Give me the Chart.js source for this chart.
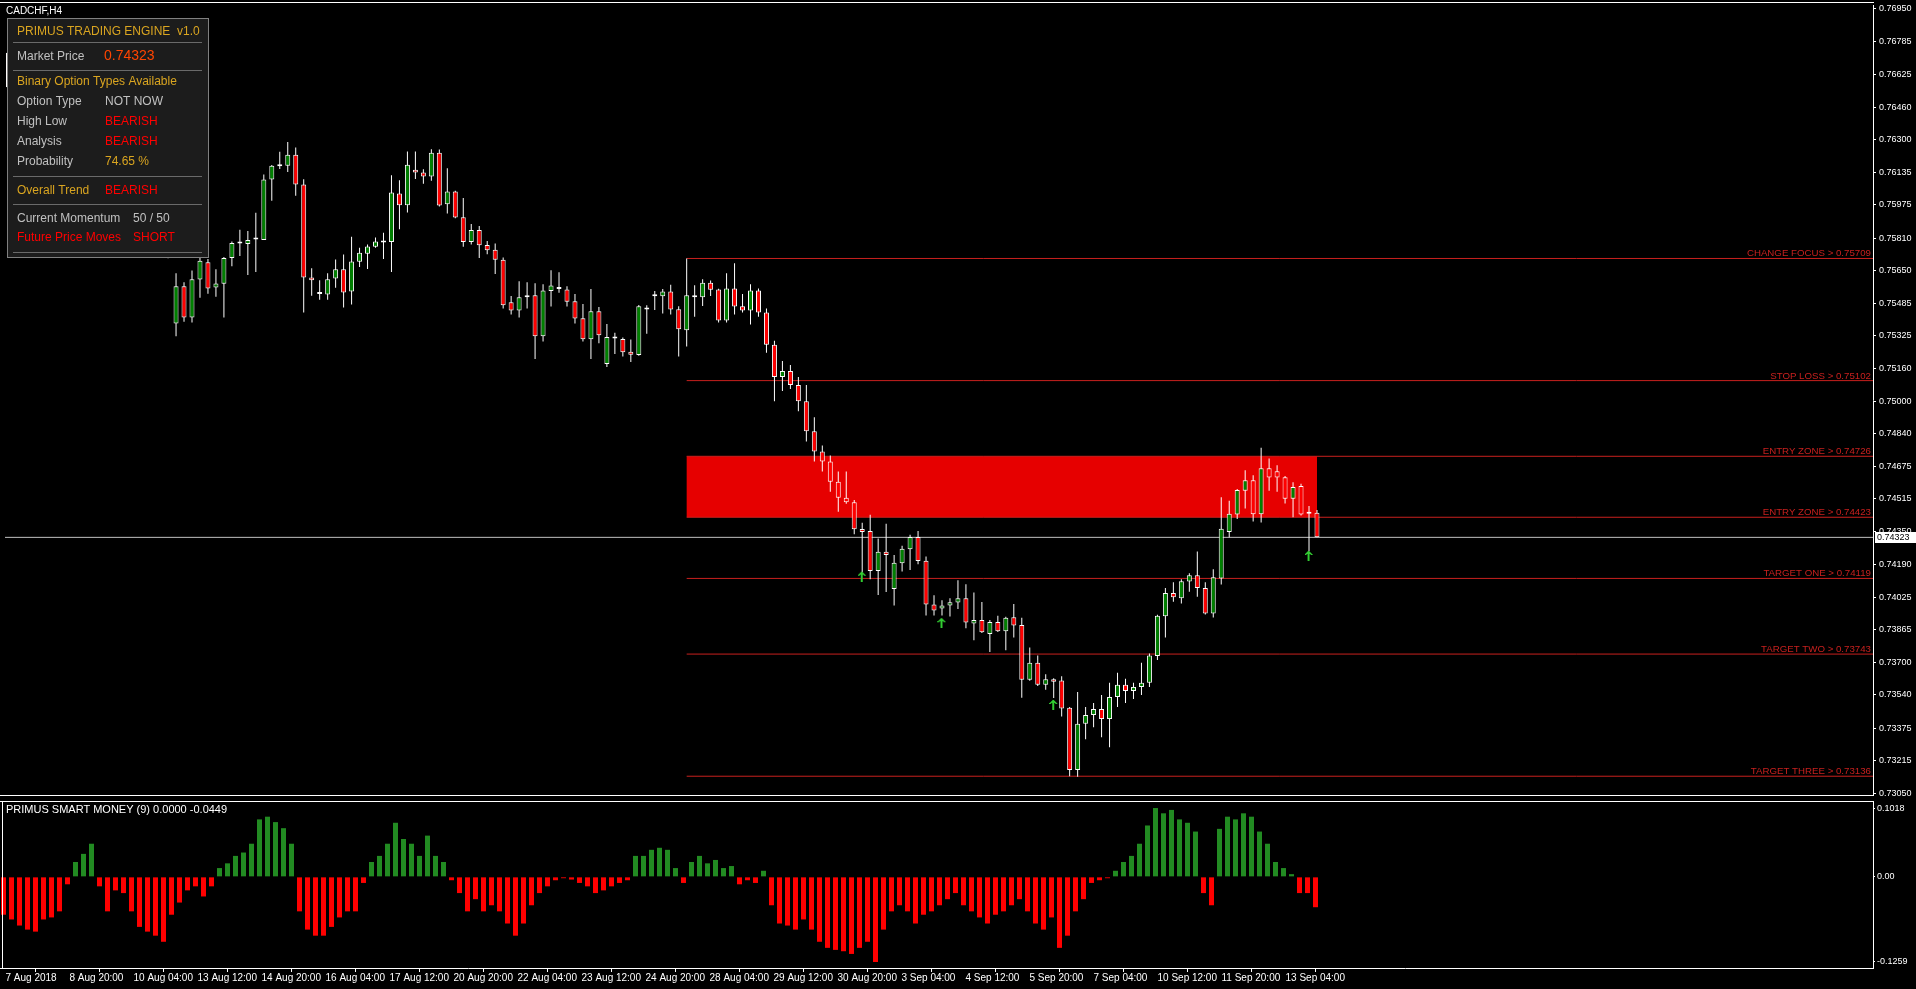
<!DOCTYPE html>
<html>
<head>
<meta charset="utf-8">
<title>CADCHF,H4</title>
<script src="https://cdn.jsdelivr.net/npm/chart.js@4"></script>
<style>
  html, body { margin: 0; padding: 0; background: #000; overflow: hidden; }
  #main { position: absolute; left: 0; top: 0; }
  #smart { position: absolute; left: 0; top: 800px; }
</style>
</head>
<body>
<canvas id="main" width="1916" height="800"></canvas>
<canvas id="smart" width="1916" height="189"></canvas>
<script>
// CADCHF H4 candles, bar 0 = 7 Aug 2018 12:00
const barOpen = [
  0.76732, 0.76560, 0.76590, 0.76640, 0.76600, 0.76520, 0.76470, 0.76500, 0.76440, 0.76360,
  0.76400, 0.76320, 0.76250, 0.76150, 0.76190, 0.76080, 0.75980, 0.76020, 0.75900, 0.75810,
  0.75760, 0.75386, 0.75571, 0.75416, 0.75604, 0.75690, 0.75565, 0.75583, 0.75711, 0.75784,
  0.75781, 0.75803, 0.75801, 0.76101, 0.76167, 0.76170, 0.76224, 0.76077, 0.75614, 0.75533,
  0.75530, 0.75609, 0.75655, 0.75545, 0.75693, 0.75732, 0.75767, 0.75789, 0.75791, 0.76032,
  0.75973, 0.76150, 0.76136, 0.76116, 0.76234, 0.75978, 0.76042, 0.75914, 0.75791, 0.75850,
  0.75776, 0.75752, 0.75703, 0.75491, 0.75450, 0.75516, 0.75526, 0.75322, 0.75548, 0.75557,
  0.75555, 0.75496, 0.75412, 0.75307, 0.75447, 0.75184, 0.75311, 0.75309, 0.75245, 0.75229,
  0.75466, 0.75530, 0.75521, 0.75545, 0.75457, 0.75352, 0.75526, 0.75516, 0.75589, 0.75555,
  0.75401, 0.75560, 0.75471, 0.75450, 0.75550, 0.75440, 0.75280, 0.75120, 0.75150, 0.75080,
  0.75000, 0.74850, 0.74750, 0.74700, 0.74600, 0.74520, 0.74497, 0.74364, 0.74355, 0.74156,
  0.74251, 0.74067, 0.74195, 0.74264, 0.74325, 0.74207, 0.73990, 0.73969, 0.73984, 0.73999,
  0.74020, 0.73895, 0.73912, 0.73843, 0.73902, 0.73856, 0.73926, 0.73887, 0.73615, 0.73700,
  0.73590, 0.73618, 0.73612, 0.73476, 0.73167, 0.73397, 0.73440, 0.73470, 0.73420, 0.73530,
  0.73590, 0.73560, 0.73580, 0.73600, 0.73733, 0.73931, 0.74046, 0.74020, 0.74104, 0.74135,
  0.74071, 0.73945, 0.74118, 0.74350, 0.74437, 0.74555, 0.74607, 0.74438, 0.74666, 0.74651,
  0.74622, 0.74515, 0.74578, 0.74441, 0.74445
];
const barHigh = [
  0.76762, 0.76620, 0.76680, 0.76700, 0.76650, 0.76580, 0.76530, 0.76560, 0.76480, 0.76420,
  0.76450, 0.76380, 0.76300, 0.76220, 0.76230, 0.76120, 0.76050, 0.76060, 0.75960, 0.75870,
  0.75820, 0.75635, 0.75591, 0.75649, 0.75714, 0.75706, 0.75655, 0.75716, 0.75794, 0.75852,
  0.75845, 0.75936, 0.76126, 0.76173, 0.76239, 0.76288, 0.76260, 0.76103, 0.75660, 0.75601,
  0.75635, 0.75704, 0.75729, 0.75817, 0.75762, 0.75778, 0.75813, 0.75837, 0.76122, 0.76098,
  0.76241, 0.76241, 0.76152, 0.76252, 0.76250, 0.76157, 0.76045, 0.76009, 0.75880, 0.75870,
  0.75796, 0.75783, 0.75714, 0.75522, 0.75596, 0.75591, 0.75586, 0.75581, 0.75650, 0.75640,
  0.75571, 0.75532, 0.75483, 0.75557, 0.75468, 0.75384, 0.75340, 0.75316, 0.75306, 0.75478,
  0.75476, 0.75547, 0.75557, 0.75578, 0.75471, 0.75709, 0.75576, 0.75606, 0.75599, 0.75558,
  0.75635, 0.75685, 0.75532, 0.75581, 0.75560, 0.75460, 0.75300, 0.75200, 0.75180, 0.75120,
  0.75080, 0.74920, 0.74780, 0.74730, 0.74650, 0.74650, 0.74509, 0.74396, 0.74435, 0.74317,
  0.74391, 0.74236, 0.74281, 0.74336, 0.74355, 0.74228, 0.74035, 0.74010, 0.74020, 0.74110,
  0.74090, 0.74049, 0.74002, 0.73913, 0.73933, 0.73928, 0.73992, 0.73923, 0.73776, 0.73736,
  0.73643, 0.73623, 0.73633, 0.73480, 0.73554, 0.73480, 0.73500, 0.73540, 0.73600, 0.73650,
  0.73620, 0.73600, 0.73700, 0.73746, 0.73938, 0.74072, 0.74100, 0.74115, 0.74145, 0.74253,
  0.74100, 0.74164, 0.74523, 0.74505, 0.74563, 0.74656, 0.74632, 0.74769, 0.74715, 0.74681,
  0.74628, 0.74597, 0.74589, 0.74479, 0.74459
];
const barLow = [
  0.76541, 0.76480, 0.76550, 0.76560, 0.76500, 0.76440, 0.76400, 0.76420, 0.76330, 0.76280,
  0.76300, 0.76220, 0.76120, 0.76080, 0.76050, 0.75950, 0.75900, 0.75880, 0.75780, 0.75730,
  0.75710, 0.75322, 0.75394, 0.75391, 0.75514, 0.75534, 0.75519, 0.75416, 0.75671, 0.75721,
  0.75627, 0.75642, 0.75801, 0.75996, 0.76154, 0.76139, 0.76021, 0.75440, 0.75524, 0.75504,
  0.75504, 0.75563, 0.75465, 0.75480, 0.75667, 0.75657, 0.75762, 0.75706, 0.75642, 0.75854,
  0.75937, 0.76104, 0.76080, 0.76095, 0.75967, 0.75932, 0.75909, 0.75767, 0.75779, 0.75711,
  0.75730, 0.75632, 0.75460, 0.75430, 0.75416, 0.75460, 0.75209, 0.75297, 0.75470, 0.75539,
  0.75470, 0.75386, 0.75297, 0.75209, 0.75288, 0.75170, 0.75234, 0.75222, 0.75194, 0.75225,
  0.75335, 0.75453, 0.75435, 0.75430, 0.75222, 0.75271, 0.75419, 0.75473, 0.75522, 0.75391,
  0.75391, 0.75430, 0.75440, 0.75381, 0.75420, 0.75240, 0.75000, 0.75050, 0.75060, 0.74950,
  0.74800, 0.74700, 0.74650, 0.74550, 0.74450, 0.74490, 0.74338, 0.74148, 0.74115, 0.74036,
  0.74051, 0.73984, 0.74154, 0.74161, 0.74190, 0.73935, 0.73935, 0.73935, 0.73930, 0.73967,
  0.73871, 0.73812, 0.73848, 0.73753, 0.73853, 0.73762, 0.73826, 0.73526, 0.73610, 0.73584,
  0.73566, 0.73525, 0.73433, 0.73136, 0.73134, 0.73320, 0.73380, 0.73330, 0.73280, 0.73480,
  0.73500, 0.73520, 0.73540, 0.73580, 0.73713, 0.73826, 0.74003, 0.73994, 0.74053, 0.74028,
  0.73940, 0.73925, 0.74089, 0.74323, 0.74414, 0.74466, 0.74402, 0.74397, 0.74555, 0.74550,
  0.74491, 0.74423, 0.74432, 0.74254, 0.74323
];
const barClose = [
  0.76560, 0.76590, 0.76640, 0.76600, 0.76520, 0.76470, 0.76500, 0.76440, 0.76360, 0.76400,
  0.76320, 0.76250, 0.76150, 0.76190, 0.76080, 0.75980, 0.76020, 0.75900, 0.75810, 0.75760,
  0.75740, 0.75571, 0.75416, 0.75606, 0.75698, 0.75560, 0.75585, 0.75712, 0.75786, 0.75784,
  0.75801, 0.75803, 0.76101, 0.76170, 0.76167, 0.76224, 0.76077, 0.75614, 0.75601, 0.75533,
  0.75606, 0.75655, 0.75540, 0.75694, 0.75737, 0.75768, 0.75793, 0.75789, 0.76037, 0.75973,
  0.76175, 0.76136, 0.76116, 0.76234, 0.75972, 0.76042, 0.75913, 0.75791, 0.75850, 0.75775,
  0.75750, 0.75703, 0.75476, 0.75450, 0.75516, 0.75526, 0.75322, 0.75550, 0.75575, 0.75557,
  0.75494, 0.75411, 0.75307, 0.75447, 0.75327, 0.75319, 0.75311, 0.75243, 0.75230, 0.75471,
  0.75455, 0.75521, 0.75545, 0.75455, 0.75357, 0.75526, 0.75516, 0.75589, 0.75553, 0.75401,
  0.75560, 0.75470, 0.75450, 0.75550, 0.75440, 0.75280, 0.75120, 0.75150, 0.75080, 0.75000,
  0.74850, 0.74750, 0.74700, 0.74600, 0.74520, 0.74497, 0.74363, 0.74350, 0.74156, 0.74251,
  0.74236, 0.74197, 0.74266, 0.74325, 0.74205, 0.73989, 0.73959, 0.73985, 0.74000, 0.74020,
  0.73900, 0.73912, 0.73851, 0.73902, 0.73856, 0.73923, 0.73885, 0.73615, 0.73700, 0.73590,
  0.73618, 0.73605, 0.73472, 0.73167, 0.73397, 0.73440, 0.73470, 0.73420, 0.73530, 0.73590,
  0.73560, 0.73580, 0.73600, 0.73736, 0.73933, 0.74046, 0.74025, 0.74105, 0.74135, 0.74072,
  0.73945, 0.74125, 0.74366, 0.74440, 0.74558, 0.74607, 0.74438, 0.74666, 0.74620, 0.74620,
  0.74515, 0.74573, 0.74437, 0.74441, 0.74323
];

// PRIMUS SMART MONEY (9) histogram, one value per bar
const smartMoney = [
  -0.056, -0.063, -0.072, -0.078, -0.081, -0.063, -0.060, -0.051, -0.011, 0.022,
  0.034, 0.049, -0.014, -0.051, -0.020, -0.024, -0.051, -0.074, -0.081, -0.087,
  -0.096, -0.056, -0.038, -0.020, -0.014, -0.029, -0.014, 0.013, 0.020, 0.031,
  0.036, 0.049, 0.085, 0.089, 0.081, 0.072, 0.049, -0.051, -0.078, -0.087,
  -0.087, -0.074, -0.060, -0.051, -0.051, -0.009, 0.022, 0.031, 0.049, 0.080,
  0.056, 0.049, 0.031, 0.061, 0.031, 0.022, -0.005, -0.024, -0.051, -0.033,
  -0.051, -0.042, -0.051, -0.069, -0.087, -0.069, -0.042, -0.024, -0.014, -0.005,
  -0.002, -0.004, -0.009, -0.014, -0.024, -0.020, -0.014, -0.009, -0.005, 0.031,
  0.031, 0.040, 0.043, 0.040, 0.013, -0.009, 0.022, 0.031, 0.020, 0.025,
  0.013, 0.016, -0.011, -0.005, -0.009, 0.009, -0.042, -0.069, -0.072, -0.078,
  -0.063, -0.078, -0.096, -0.105, -0.108, -0.110, -0.114, -0.105, -0.096, -0.1259,
  -0.078, -0.051, -0.042, -0.051, -0.069, -0.056, -0.051, -0.042, -0.033, -0.024,
  -0.042, -0.051, -0.060, -0.069, -0.056, -0.051, -0.042, -0.033, -0.051, -0.069,
  -0.078, -0.060, -0.105, -0.087, -0.051, -0.033, -0.009, -0.005, -0.002, 0.009,
  0.022, 0.031, 0.049, 0.076, 0.1018, 0.094, 0.099, 0.085, 0.080, 0.067,
  -0.024, -0.042, 0.071, 0.089, 0.085, 0.094, 0.089, 0.067, 0.049, 0.022,
  0.013, 0.004, -0.024, -0.024, -0.0449
];

const dateTickBars = [0, 8, 16, 24, 32, 40, 48, 56, 64, 72, 80, 88, 96, 104, 112, 120, 128, 136, 144, 152, 160];
const dateTickLabels = ['7 Aug 2018', '8 Aug 20:00', '10 Aug 04:00', '13 Aug 12:00', '14 Aug 20:00', '16 Aug 04:00',
  '17 Aug 12:00', '20 Aug 20:00', '22 Aug 04:00', '23 Aug 12:00', '24 Aug 20:00', '28 Aug 04:00', '29 Aug 12:00',
  '30 Aug 20:00', '3 Sep 04:00', '4 Sep 12:00', '5 Sep 20:00', '7 Sep 04:00', '10 Sep 12:00', '11 Sep 20:00', '13 Sep 04:00'];

const priceTicks = [0.76950, 0.76785, 0.76625, 0.76460, 0.76300, 0.76135, 0.75975, 0.75810, 0.75650, 0.75485,
  0.75325, 0.75160, 0.75000, 0.74840, 0.74675, 0.74515, 0.74350, 0.74190, 0.74025, 0.73865, 0.73700, 0.73540,
  0.73375, 0.73215, 0.73050];
const smartTicks = [0.1018, 0, -0.1259];
const smartTickLabels = ['0.1018', '0.00', '-0.1259'];

const levelNames = ['CHANGE FOCUS', 'STOP LOSS', 'ENTRY ZONE', 'ENTRY ZONE', 'TARGET ONE', 'TARGET TWO', 'TARGET THREE'];
const levelValues = [0.75709, 0.75102, 0.74726, 0.74423, 0.74119, 0.73743, 0.73136];
const zoneStartBar = 85;
const zoneEndBar = 164;
const currentPrice = 0.74323;

const arrowBars = [107, 117, 131, 163];
const arrowPrices = [0.74130, 0.73899, 0.73493, 0.74233];

const symbolTitle = 'CADCHF,H4';

const FONT = '"Liberation Sans", Arial, sans-serif';
const GOLD = '#daa520';
const SILVER = '#c0c0c0';
const RED = '#ff0000';
const levelColor = '#c8201e';

// info panel rows: label, colour, value, colour, value x, row y
const panelRows = [
  ['PRIMUS TRADING ENGINE  v1.0', GOLD, '', '', 0, 31.5],
  ['Market Price', SILVER, currentPrice.toFixed(5), '#ff4500', 104, 56.5],
  ['Binary Option Types Available', GOLD, '', '', 0, 81.5],
  ['Option Type', SILVER, 'NOT NOW', SILVER, 105, 101.5],
  ['High Low', SILVER, 'BEARISH', RED, 105, 121.5],
  ['Analysis', SILVER, 'BEARISH', RED, 105, 141.5],
  ['Probability', SILVER, '74.65 %', GOLD, 105, 161.5],
  ['Overall Trend', GOLD, 'BEARISH', RED, 105, 190.5],
  ['Current Momentum', SILVER, '50 / 50', SILVER, 133, 218.5],
  ['Future Price Moves', RED, 'SHORT', RED, 133, 237.5]
];
const panelSeparators = [42.5, 70.5, 176.5, 204.5, 252.5];

// x axis: 8 px per bar, plot area ends at 1873 px
const xMin = -0.4375;
const xMax = xMin + 1873 / 8;

function candleColor(i) {
  if (barClose[i] > barOpen[i]) return '#008000';
  if (barClose[i] < barOpen[i]) return '#ff0000';
  return '#ffffff';
}

function makeArrow() {
  const c = document.createElement('canvas');
  c.width = 9; c.height = 11;
  const g = c.getContext('2d');
  g.fillStyle = '#32cd32';
  g.fillRect(3, 1, 2, 10);
  g.fillRect(2, 2, 1, 2); g.fillRect(5, 2, 1, 2);
  g.fillRect(1, 3, 1, 2); g.fillRect(6, 3, 1, 2);
  g.fillRect(0, 4, 1, 1); g.fillRect(7, 4, 1, 1);
  return c;
}

function drawPanel(ctx) {
  ctx.fillStyle = '#1c1c1c';
  ctx.fillRect(7, 18, 202, 240);
  ctx.strokeStyle = '#808080';
  ctx.lineWidth = 1;
  ctx.strokeRect(7.5, 18.5, 201, 239);
  ctx.strokeStyle = '#6a6a6a';
  panelSeparators.forEach(y => {
    ctx.beginPath(); ctx.moveTo(13, y); ctx.lineTo(202, y); ctx.stroke();
  });
  ctx.textBaseline = 'middle';
  ctx.textAlign = 'left';
  panelRows.forEach(([label, lc, value, vc, vx, y]) => {
    ctx.font = '12px ' + FONT;
    ctx.fillStyle = lc;
    ctx.fillText(label, 17, y);
    if (value) {
      ctx.font = (vx === 104 ? '14px ' : '12px ') + FONT;
      ctx.fillStyle = vc;
      ctx.fillText(value, vx, y);
    }
  });
}

const mainDecor = {
  id: 'mainDecor',
  beforeDatasetsDraw(chart) {
    const { ctx, scales: { x, y } } = chart;
    const left = x.getPixelForValue(zoneStartBar);
    const right = x.getPixelForValue(zoneEndBar);
    const top = y.getPixelForValue(levelValues[2]);
    const bottom = y.getPixelForValue(levelValues[3]);
    ctx.save();
    ctx.fillStyle = '#e60000';
    ctx.fillRect(left, top, right - left, bottom - top);
    ctx.restore();
  },
  afterDatasetsDraw(chart) {
    const { ctx, chartArea, scales: { y } } = chart;
    ctx.save();
    ctx.font = '9.7px ' + FONT;
    ctx.fillStyle = levelColor;
    ctx.textAlign = 'right';
    ctx.textBaseline = 'alphabetic';
    levelNames.forEach((name, i) => {
      ctx.fillText(name + ' > ' + levelValues[i].toFixed(5), chartArea.right - 2, y.getPixelForValue(levelValues[i]) - 2);
    });
    ctx.restore();
  },
  afterDraw(chart) {
    const { ctx, chartArea, scales: { y } } = chart;
    ctx.save();
    ctx.fillStyle = '#fff';
    ctx.fillRect(0, 2, chartArea.right + 1, 1);
    ctx.fillRect(0, chartArea.bottom, chartArea.right + 1, 1);
    // current price tag on the axis
    const py = Math.round(y.getPixelForValue(currentPrice));
    ctx.fillRect(chartArea.right + 2, py - 5, 42, 11);
    ctx.fillStyle = '#000';
    ctx.font = '9px ' + FONT;
    ctx.textBaseline = 'middle';
    ctx.fillText(currentPrice.toFixed(5), chartArea.right + 4, py + 0.5);
    ctx.fillStyle = '#fff';
    ctx.font = '10px ' + FONT;
    ctx.fillText(symbolTitle, 6, 11);
    drawPanel(ctx);
    ctx.restore();
  }
};

const smartDecor = {
  id: 'smartDecor',
  afterDraw(chart) {
    const { ctx, chartArea } = chart;
    const last = smartMoney[smartMoney.length - 1];
    ctx.save();
    ctx.fillStyle = '#fff';
    ctx.fillRect(0, chartArea.top, chartArea.right + 1, 1);
    ctx.fillRect(2, chartArea.top, 1, chartArea.bottom - chartArea.top);
    ctx.font = '11px ' + FONT;
    ctx.textBaseline = 'middle';
    ctx.fillText('PRIMUS SMART MONEY (9) ' + Math.max(last, 0).toFixed(4) + ' ' + Math.min(last, 0).toFixed(4), 6, 10);
    ctx.restore();
  }
};

const bars = barOpen.map((_, i) => i);

const levelDatasets = levelValues.map(v => ({
  type: 'line',
  data: [{ x: zoneStartBar, y: v }, { x: xMax, y: v }],
  borderColor: levelColor,
  borderWidth: 1,
  pointRadius: 0,
  order: 6
}));

new Chart(document.getElementById('main'), {
  type: 'bar',
  data: {
    datasets: [
      ...levelDatasets,
      {
        type: 'line',
        data: [{ x: xMin, y: currentPrice }, { x: xMax, y: currentPrice }],
        borderColor: '#c0c0c0',
        borderWidth: 1,
        pointRadius: 0,
        order: 5
      },
      {
        data: bars.map(i => ({ x: i, y: [barLow[i], barHigh[i]] })),
        backgroundColor: '#ffffff',
        borderWidth: 0,
        barThickness: 1,
        grouped: false,
        inflateAmount: 0,
        order: 3
      },
      {
        data: bars.map(i => ({ x: i, y: [barOpen[i], barClose[i]] })),
        backgroundColor: bars.map(candleColor),
        borderColor: '#ffffff',
        borderWidth: 1,
        borderSkipped: false,
        barThickness: 5,
        minBarLength: 2,
        grouped: false,
        inflateAmount: 0,
        order: 2
      },
      {
        type: 'line',
        data: arrowBars.map((b, i) => ({ x: b, y: arrowPrices[i] })),
        showLine: false,
        pointStyle: makeArrow(),
        pointRadius: 4,
        order: 1
      }
    ]
  },
  options: {
    responsive: false,
    animation: false,
    devicePixelRatio: 1,
    events: [],
    layout: { padding: { top: 0, bottom: 2, left: 0, right: 0 } },
    plugins: { legend: { display: false }, tooltip: { enabled: false } },
    scales: {
      x: { type: 'linear', min: xMin, max: xMax, offset: false, display: false },
      y: {
        position: 'right',
        min: 0.769687 - 798 / 20326,
        max: 0.769687,
        afterBuildTicks: s => { s.ticks = priceTicks.map(v => ({ value: v })); },
        afterFit: s => { s.width = 43; s.paddingTop = 0; s.paddingBottom = 0; },
        ticks: { color: '#fff', font: { family: FONT, size: 9 }, padding: 3, autoSkip: false,
          callback: v => v.toFixed(5) },
        grid: { drawOnChartArea: false, color: '#fff', tickLength: 3 },
        border: { display: true, color: '#fff' }
      }
    }
  },
  plugins: [mainDecor]
});

new Chart(document.getElementById('smart'), {
  type: 'bar',
  data: {
    datasets: [{
      data: bars.map(i => ({ x: i, y: smartMoney[i] })),
      backgroundColor: smartMoney.map(v => v >= 0 ? '#228b22' : '#ff0000'),
      borderWidth: 0,
      barThickness: 5,
      grouped: false,
      inflateAmount: 0
    }]
  },
  options: {
    responsive: false,
    animation: false,
    devicePixelRatio: 1,
    events: [],
    layout: { padding: { top: 1, bottom: 0, left: 0, right: 0 } },
    plugins: { legend: { display: false }, tooltip: { enabled: false } },
    scales: {
      x: {
        type: 'linear', min: xMin, max: xMax, offset: false,
        afterBuildTicks: s => { s.ticks = dateTickBars.map(v => ({ value: v })); },
        afterFit: s => { s.height = 21; s.paddingLeft = 0; s.paddingRight = 0; },
        ticks: { color: '#fff', font: { family: FONT, size: 10 }, align: 'start', padding: 0,
          maxRotation: 0, autoSkip: false, labelOffset: 2, callback: (v, i) => dateTickLabels[i] },
        grid: { drawOnChartArea: false, color: '#fff', tickLength: 4 },
        border: { display: true, color: '#fff' }
      },
      y: {
        position: 'right',
        min: -0.1348,
        max: 0.1122,
        afterBuildTicks: s => { s.ticks = smartTicks.map(v => ({ value: v })); },
        afterFit: s => { s.width = 43; s.paddingTop = 0; s.paddingBottom = 0; },
        ticks: { color: '#fff', font: { family: FONT, size: 9 }, padding: 2, autoSkip: false,
          callback: (v, i) => smartTickLabels[i] },
        grid: { drawOnChartArea: false, color: '#fff', tickLength: 2 },
        border: { display: true, color: '#fff' }
      }
    }
  },
  plugins: [smartDecor]
});
</script>
</body>
</html>
